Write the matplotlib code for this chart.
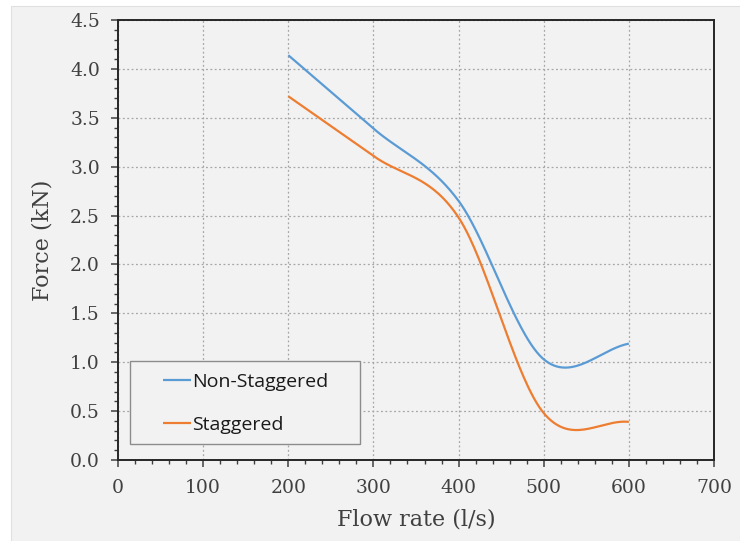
import numpy as np
import matplotlib
matplotlib.use("Agg")
import matplotlib.pyplot as plt
from matplotlib.patches import Rectangle
from matplotlib.ticker import MultipleLocator, FormatStrFormatter

# Measured force against flow rate
flow_rate = [200, 300, 400, 500, 600]
force_non_staggered = [4.14, 3.39, 2.65, 1.03, 1.19]
force_staggered = [3.72, 3.11, 2.48, 0.48, 0.39]
series_labels = ["Non-Staggered", "Staggered"]
series_colors = ["#5b9bd5", "#ed7d31"]


def smooth_curve(x, y, n=60):
    """Catmull-Rom spline through the points (smoothed line)."""
    x = np.asarray(x, float)
    y = np.asarray(y, float)
    # phantom end points by linear extrapolation
    xp = np.concatenate([[2 * x[0] - x[1]], x, [2 * x[-1] - x[-2]]])
    yp = np.concatenate([[2 * y[0] - y[1]], y, [2 * y[-1] - y[-2]]])
    xs, ys = [], []
    for i in range(1, len(xp) - 2):
        t = np.linspace(0, 1, n, endpoint=(i == len(xp) - 3))
        p0, p1, p2, p3 = yp[i - 1], yp[i], yp[i + 1], yp[i + 2]
        q0, q1, q2, q3 = xp[i - 1], xp[i], xp[i + 1], xp[i + 2]
        h00 = 2 * t**3 - 3 * t**2 + 1
        h10 = t**3 - 2 * t**2 + t
        h01 = -2 * t**3 + 3 * t**2
        h11 = t**3 - t**2
        ys.append(h00 * p1 + h10 * (p2 - p0) / 2 + h01 * p2 + h11 * (p3 - p1) / 2)
        xs.append(h00 * q1 + h10 * (q2 - q0) / 2 + h01 * q2 + h11 * (q3 - q1) / 2)
    return np.concatenate(xs), np.concatenate(ys)


bg = "#f2f2f2"
text_color = "#404040"

fig = plt.figure(figsize=(7.40, 5.41), dpi=100, facecolor="white")
fig.patches.append(Rectangle((11 / 740, 0), 1 - 11 / 740, 1 - 6 / 541,
                             transform=fig.transFigure, facecolor=bg,
                             edgecolor="#e0e0e0", linewidth=0.8, zorder=-10))

ax = fig.add_axes([118 / 740, 1 - 460 / 541, 596 / 740, 440 / 541])
ax.set_facecolor(bg)

lines = []
for y, lab, col in zip([force_non_staggered, force_staggered], series_labels, series_colors):
    sx, sy = smooth_curve(flow_rate, y)
    ln, = ax.plot(sx, sy, color=col, linewidth=1.6, label=lab,
                  solid_capstyle="butt", zorder=3)
    lines.append(ln)

ax.set_xlim(0, 700)
ax.set_ylim(0, 4.5)
ax.xaxis.set_major_locator(MultipleLocator(100))
ax.xaxis.set_minor_locator(MultipleLocator(20))
ax.yaxis.set_major_locator(MultipleLocator(0.5))
ax.yaxis.set_minor_locator(MultipleLocator(0.1))
ax.yaxis.set_major_formatter(FormatStrFormatter("%.1f"))

ax.grid(True, which="major", linestyle=(0, (1.5, 2)), color="#a6a6a6", linewidth=0.9)
ax.set_axisbelow(True)

for s in ax.spines.values():
    s.set_color("#262626")
    s.set_linewidth(1.4)

ax.tick_params(axis="both", which="major", direction="out", length=5,
               width=1.1, color="#404040", labelcolor=text_color, labelsize=13.5)
ax.tick_params(axis="both", which="minor", direction="out", length=3,
               width=1.0, color="#404040")
ax.tick_params(axis="y", which="major", pad=8)
ax.tick_params(axis="x", which="major", pad=9)
for lbl in ax.get_xticklabels() + ax.get_yticklabels():
    lbl.set_family("DejaVu Serif")

ax.set_xlabel("Flow rate (l/s)", family="DejaVu Serif", fontsize=16,
              color=text_color, labelpad=8)
ax.set_ylabel("Force (kN)", family="DejaVu Serif", fontsize=16,
              color=text_color, labelpad=12)

# legend box
ax.add_patch(Rectangle((12 / 596, 16 / 440), 230 / 596, 83 / 440,
                       transform=ax.transAxes, facecolor=bg,
                       edgecolor="#8c8c8c", linewidth=1.0, zorder=4))
leg = ax.legend(handles=lines, loc="upper left",
                bbox_to_anchor=(45 / 596, 87 / 440),
                frameon=False, prop={"family": "Open Sans", "size": 14},
                handlelength=1.45, handletextpad=0.05, labelspacing=1.27,
                borderpad=0, borderaxespad=0)
leg.set_zorder(5)
for t in leg.get_texts():
    t.set_color("#1a1a1a")

fig.savefig("out.png", dpi=100, facecolor=fig.get_facecolor())
